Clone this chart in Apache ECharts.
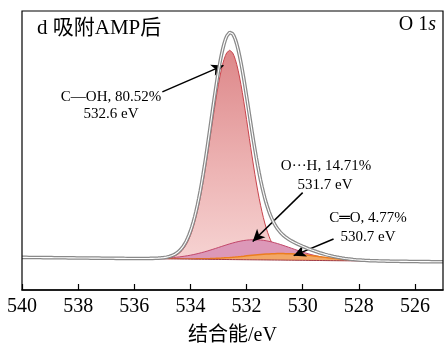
<!DOCTYPE html>
<html>
<head>
<meta charset="utf-8">
<script src="https://cdn.jsdelivr.net/npm/echarts@6/dist/echarts.min.js"></script>
<style>
  html, body { margin: 0; padding: 0; background: #fff; }
  #chart { width: 444px; height: 349px; }
</style>
</head>
<body>
<div id="chart"></div>
<script>
// O 1s spectrum after AMP adsorption, fitted with three Gaussian components
const componentNames = ['C—OH', 'O···H', 'C═O'];
const peakCenters = [532.6, 531.7, 530.7];   // binding energy, eV
const areaShares = [80.52, 14.71, 4.77];     // area share, %
const peakFwhm = [1.58, 3.0, 3.0];           // eV
const totalArea = 156.7;                     // intensity × eV for 100 %
const backgroundEnds = [10.1, 11.7];         // linear background at 525 eV and 540 eV
const energyRange = [525, 540];
const energyStep = 0.05;
const tickLabels = [540, 538, 536, 534, 532, 530, 528, 526];

const SERIF = "'Liberation Serif', 'Times New Roman', 'Noto Sans CJK SC', 'DejaVu Sans', serif";

// plot frame, in pixels
const GRID = { left: 22, right: 1, top: 11, bottom: 59 };
const WIDTH = 444, HEIGHT = 349;

// energy grid
const energies = [];
for (let e = energyRange[0]; e <= energyRange[1] + 1e-9; e += energyStep) {
  energies.push(+e.toFixed(3));
}

function background(e) {
  const t = (e - energyRange[0]) / (energyRange[1] - energyRange[0]);
  return backgroundEnds[0] + (backgroundEnds[1] - backgroundEnds[0]) * t;
}

// Gaussian component whose area is its share of the total
function component(i, e) {
  const w = peakFwhm[i];
  const area = totalArea * areaShares[i] / 100;
  const height = area / (w * 1.0645);
  const d = e - peakCenters[i];
  return height * Math.exp(-4 * Math.LN2 * d * d / (w * w));
}

const bgData = energies.map(e => [e, background(e)]);
const compRaw = peakCenters.map((c, i) => energies.map(e => component(i, e)));
// each component sits on the background
const compData = compRaw.map(arr => arr.map((v, k) => [energies[k], background(energies[k]) + v]));
const envelopeData = energies.map((e, k) =>
  [e, background(e) + compRaw.reduce((s, arr) => s + arr[k], 0)]);

const compStyles = [
  { line: '#c9444c', width: 1,
    fill: new echarts.graphic.LinearGradient(0, 0, 0, 1, [
      { offset: 0, color: '#dd8789' },
      { offset: 0.5, color: '#edb4b4' },
      { offset: 1, color: '#f9dddc' }]) },
  { line: '#c2476a', width: 1, fill: '#dc98b8' },
  { line: '#ec7d1e', width: 1.5, fill: '#f2a766' }
];

const series = [];
compData.forEach((data, i) => {
  series.push({
    name: componentNames[i], type: 'line', data: data,
    showSymbol: false, silent: true, z: 2 + i,
    lineStyle: { color: compStyles[i].line, width: compStyles[i].width },
    areaStyle: { color: compStyles[i].fill, opacity: 1 }
  });
});

// white mask below the background line, so fills start at the background
series.push({
  type: 'line', data: bgData, showSymbol: false, silent: true, z: 5,
  lineStyle: { color: '#a03a44', width: 1 },
  areaStyle: { color: '#ffffff', opacity: 1 }
});

// envelope drawn as a gray double line
series.push({
  type: 'line', data: envelopeData, showSymbol: false, silent: true, z: 6,
  lineStyle: { color: '#8a8a8a', width: 3.6 }
});
series.push({
  type: 'line', data: envelopeData, showSymbol: false, silent: true, z: 7,
  lineStyle: { color: '#ffffff', width: 1.1 },
  markLine: {
    silent: true, animation: false,
    symbol: ['none', 'arrow'], symbolSize: [9, 12],
    label: { show: false },
    lineStyle: { color: '#000', width: 1.5, type: 'solid' },
    data: [
      [{ coord: [535.0, 71.0] }, { coord: [532.82, 80.5] }],
      [{ coord: [530.0, 34.9] }, { coord: [531.78, 17.4] }],
      [{ coord: [528.9, 18.3] }, { coord: [530.32, 12.3] }]
    ]
  }
});

const chart = echarts.init(document.getElementById('chart'), null, { renderer: 'canvas' });

const annoFont = '15px ' + SERIF;
const labelLines = [
  [componentNames[0] + ', ' + areaShares[0].toFixed(2) + '%', 111, 97],
  [peakCenters[0].toFixed(1) + ' eV', 111, 114],
  [componentNames[1] + ', ' + areaShares[1].toFixed(2) + '%', 326, 166],
  [peakCenters[1].toFixed(1) + ' eV', 325, 185],
  [componentNames[2] + ', ' + areaShares[2].toFixed(2) + '%', 368, 218],
  [peakCenters[2].toFixed(1) + ' eV', 368, 237]
];

chart.setOption({
  animation: false,
  backgroundColor: '#fff',
  grid: {
    left: GRID.left, right: GRID.right, top: GRID.top, bottom: GRID.bottom,
    show: false, containLabel: false, outerBoundsMode: 'none'
  },
  xAxis: {
    type: 'value', inverse: true,
    min: energyRange[0], max: energyRange[1],
    name: '结合能/eV', nameLocation: 'middle', nameGap: 36,
    nameTextStyle: { fontSize: 20, color: '#000', fontFamily: SERIF },
    axisLine: { show: true, lineStyle: { color: '#000', width: 1.5 } },
    axisTick: { show: true, inside: true, length: 6, customValues: tickLabels,
      lineStyle: { color: '#000', width: 1.2 } },
    axisLabel: { show: true, customValues: tickLabels, margin: 7,
      fontSize: 20, color: '#000', fontFamily: SERIF },
    splitLine: { show: false },
    z: 30
  },
  yAxis: {
    type: 'value', min: 0, max: 100,
    axisLine: { show: false }, axisTick: { show: false },
    axisLabel: { show: false }, splitLine: { show: false }
  },
  series: series,
  graphic: [
    {
      // plot frame on top of the fills
      type: 'rect', z: 25, silent: true,
      shape: {
        x: GRID.left, y: GRID.top,
        width: WIDTH - GRID.left - GRID.right,
        height: HEIGHT - GRID.top - GRID.bottom
      },
      style: { fill: null, stroke: '#000', lineWidth: 1.2 }
    },
    {
      type: 'text', left: 37, top: 18, z: 20,
      style: { text: 'd 吸附AMP后', font: '21px ' + SERIF, fill: '#000' }
    },
    {
      type: 'text', right: 8, top: 15, z: 20,
      style: {
        text: '{a|O 1}{b|s}',
        rich: {
          a: { fontSize: 20, fontFamily: SERIF, fill: '#000' },
          b: { fontSize: 20, fontFamily: SERIF, fontStyle: 'italic', fill: '#000' }
        }
      }
    }
  ].concat(labelLines.map(([t, x, y]) => ({
    type: 'text', x: x, y: y, z: 20,
    style: { text: t, font: annoFont, fill: '#000', align: 'center', verticalAlign: 'middle' }
  })))
});
</script>
</body>
</html>
